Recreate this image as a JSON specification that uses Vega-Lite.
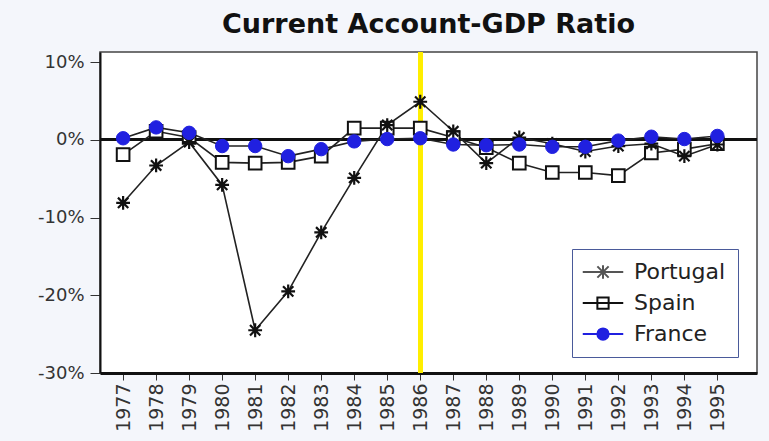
{
  "$schema": "https://vega.github.io/schema/vega-lite/v6.json",
  "width": 657,
  "height": 321,
  "autosize": {"type": "none"},
  "padding": {"left": 100, "top": 52, "right": 12, "bottom": 68},
  "background": "#f4f6fb",
  "title": {"text": "Current Account-GDP Ratio", "fontSize": 27, "font": "DejaVu Sans", "fontWeight": "bold", "color": "#111", "offset": 11, "anchor": "middle"},
  "config": {
    "view": {"fill": "white", "stroke": "#444", "strokeWidth": 1.5},
    "axis": {"grid": false, "title": null, "domainColor": "#111", "tickColor": "#333", "labelColor": "#333", "labelFont": "DejaVu Sans"},
    "legend": {"orient": "none", "legendX": 472, "legendY": 197, "labelFont": "DejaVu Sans", "labelFontSize": 22, "labelColor": "#222", "title": null, "padding": 12, "strokeColor": "#4a5a9a", "fillColor": "white", "symbolSize": 225, "symbolStrokeWidth": 2, "symbolOffset": 8, "labelOffset": 20, "rowPadding": 9}
  },
  "data": {"values": [
    {"year": 1977, "country": "Portugal", "value": -8.1},
    {"year": 1978, "country": "Portugal", "value": -3.3},
    {"year": 1979, "country": "Portugal", "value": -0.3},
    {"year": 1980, "country": "Portugal", "value": -5.8},
    {"year": 1981, "country": "Portugal", "value": -24.5},
    {"year": 1982, "country": "Portugal", "value": -19.5},
    {"year": 1983, "country": "Portugal", "value": -11.9},
    {"year": 1984, "country": "Portugal", "value": -4.9},
    {"year": 1985, "country": "Portugal", "value": 1.9},
    {"year": 1986, "country": "Portugal", "value": 4.9},
    {"year": 1987, "country": "Portugal", "value": 1.1},
    {"year": 1988, "country": "Portugal", "value": -3.0},
    {"year": 1989, "country": "Portugal", "value": 0.3},
    {"year": 1990, "country": "Portugal", "value": -0.5},
    {"year": 1991, "country": "Portugal", "value": -1.5},
    {"year": 1992, "country": "Portugal", "value": -0.8},
    {"year": 1993, "country": "Portugal", "value": -0.5},
    {"year": 1994, "country": "Portugal", "value": -2.1},
    {"year": 1995, "country": "Portugal", "value": -0.6},
    {"year": 1977, "country": "Spain", "value": -1.9},
    {"year": 1978, "country": "Spain", "value": 1.1},
    {"year": 1979, "country": "Spain", "value": 0.3},
    {"year": 1980, "country": "Spain", "value": -2.9},
    {"year": 1981, "country": "Spain", "value": -3.0},
    {"year": 1982, "country": "Spain", "value": -2.9},
    {"year": 1983, "country": "Spain", "value": -2.1},
    {"year": 1984, "country": "Spain", "value": 1.5},
    {"year": 1985, "country": "Spain", "value": 1.5},
    {"year": 1986, "country": "Spain", "value": 1.5},
    {"year": 1987, "country": "Spain", "value": 0.3},
    {"year": 1988, "country": "Spain", "value": -1.0},
    {"year": 1989, "country": "Spain", "value": -3.0},
    {"year": 1990, "country": "Spain", "value": -4.2},
    {"year": 1991, "country": "Spain", "value": -4.2},
    {"year": 1992, "country": "Spain", "value": -4.6},
    {"year": 1993, "country": "Spain", "value": -1.7},
    {"year": 1994, "country": "Spain", "value": -1.2},
    {"year": 1995, "country": "Spain", "value": -0.5},
    {"year": 1977, "country": "France", "value": 0.2},
    {"year": 1978, "country": "France", "value": 1.6},
    {"year": 1979, "country": "France", "value": 0.9},
    {"year": 1980, "country": "France", "value": -0.8},
    {"year": 1981, "country": "France", "value": -0.8},
    {"year": 1982, "country": "France", "value": -2.1},
    {"year": 1983, "country": "France", "value": -1.2},
    {"year": 1984, "country": "France", "value": -0.2},
    {"year": 1985, "country": "France", "value": 0.1},
    {"year": 1986, "country": "France", "value": 0.2},
    {"year": 1987, "country": "France", "value": -0.6},
    {"year": 1988, "country": "France", "value": -0.7},
    {"year": 1989, "country": "France", "value": -0.6},
    {"year": 1990, "country": "France", "value": -0.9},
    {"year": 1991, "country": "France", "value": -0.9},
    {"year": 1992, "country": "France", "value": -0.1},
    {"year": 1993, "country": "France", "value": 0.4},
    {"year": 1994, "country": "France", "value": 0.1},
    {"year": 1995, "country": "France", "value": 0.5}
  ]},
  "encoding": {
    "x": {"field": "year", "type": "quantitative", "scale": {"domain": [1976.3, 1996.2], "nice": false, "zero": false},
      "axis": {"values": [1977,1978,1979,1980,1981,1982,1983,1984,1985,1986,1987,1988,1989,1990,1991,1992,1993,1994,1995], "format": "d", "labelAngle": -90, "labelFontSize": 19, "tickSize": 7, "domainWidth": 3, "labelPadding": 3}},
    "y": {"field": "value", "type": "quantitative", "scale": {"domain": [-30, 11.3], "nice": false, "zero": false},
      "axis": {"values": [-30, -20, -10, 0, 10], "labelExpr": "datum.value + '%'", "labelFontSize": 18, "tickSize": 10, "domainWidth": 2, "labelPadding": 6}}
  },
  "layer": [
    {"mark": {"type": "rule", "color": "#ffee00", "strokeWidth": 4}, "encoding": {"x": {"datum": 1986}, "y": null}},
    {"mark": {"type": "rule", "color": "#111", "strokeWidth": 2}, "encoding": {"y": {"datum": 0}, "x": null}},
    {"mark": {"type": "line", "color": "#222", "strokeWidth": 1.6}, "encoding": {"detail": {"field": "country"}}},
    {"transform": [{"filter": "datum.country === 'Spain'"}],
      "mark": {"type": "point", "shape": "square", "size": 160, "fill": "#ffffff", "stroke": "#111111", "strokeWidth": 2, "opacity": 1}},
    {"transform": [{"filter": "datum.country === 'Portugal'"}],
      "mark": {"type": "point", "shape": "M-1,0L1,0M0,-1L0,1M-0.75,-0.75L0.75,0.75M-0.75,0.75L0.75,-0.75", "size": 190, "filled": false, "stroke": "#111111", "strokeWidth": 2.2, "opacity": 1}},
    {"transform": [{"filter": "datum.country === 'France'"}],
      "mark": {"type": "point", "shape": "circle", "size": 180, "fill": "#2020e0", "stroke": "#2020e0", "strokeWidth": 1, "opacity": 1}},
    {"transform": [{"filter": "datum.year < 0"}],
      "mark": {"type": "point", "filled": true, "opacity": 1},
      "encoding": {
        "shape": {"field": "country", "type": "nominal", "scale": {"domain": ["Portugal", "Spain", "France"], "range": ["M-2.7,0L2.7,0M0,-0.9L0,0.9M-0.75,-0.75L0.75,0.75M-0.75,0.75L0.75,-0.75", "M-2.7,0L2.7,0M-0.75,-0.75L0.75,-0.75L0.75,0.75L-0.75,0.75Z", "M-2.7,0L2.7,0M0.75,0A0.75,0.75 0 1,1 -0.75,0A0.75,0.75 0 1,1 0.75,0Z"]}},
        "fill": {"field": "country", "type": "nominal", "scale": {"domain": ["Portugal", "Spain", "France"], "range": ["#111111", "#ffffff", "#2020e0"]}},
        "stroke": {"field": "country", "type": "nominal", "scale": {"domain": ["Portugal", "Spain", "France"], "range": ["#555555", "#111111", "#2020e0"]}}
      }}
  ]
}
